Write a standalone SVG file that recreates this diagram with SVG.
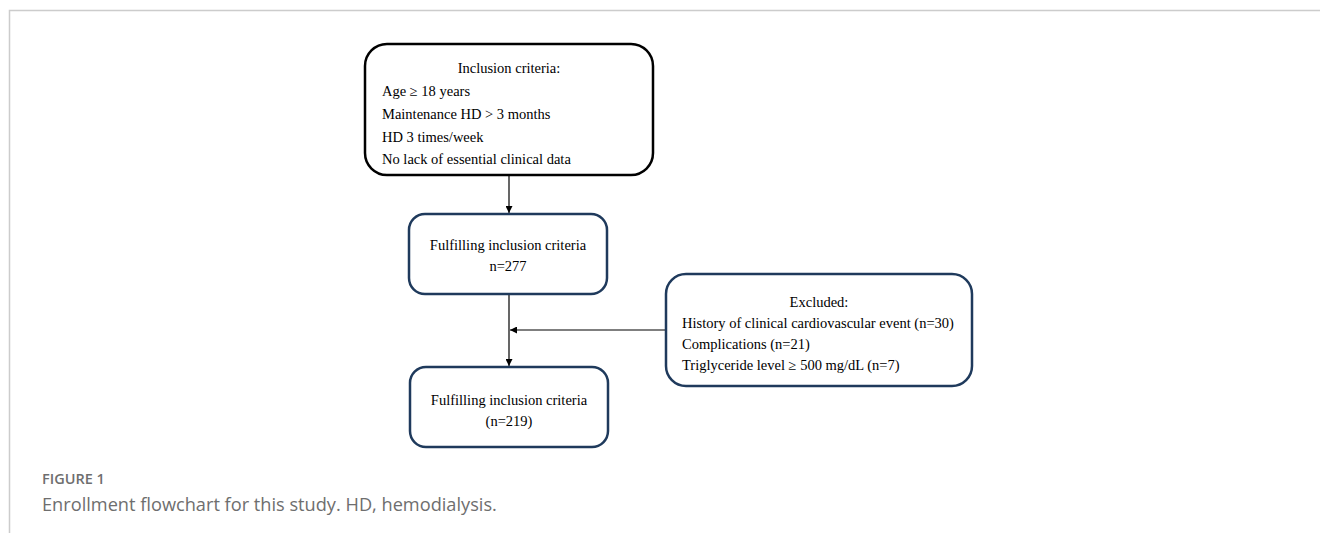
<svg xmlns="http://www.w3.org/2000/svg" width="1320" height="533" viewBox="0 0 1320 533">
<style>
.t{font-family:"Liberation Serif","Times New Roman",serif;font-size:14.5px;fill:#000}
.b{fill:#fff;stroke:#1f3a5c;stroke-width:2.5}
.c{stroke:#000;stroke-width:1.2;fill:none}
.cap{font-family:"Open Sans","Liberation Sans",sans-serif;fill:#6e6e6e}
</style>
<defs>
<marker id="ah" viewBox="0 0 10 10" refX="10" refY="5" markerWidth="7" markerHeight="7" orient="auto" markerUnits="userSpaceOnUse">
<path d="M0,0 L10,5 L0,10 z" fill="#000"/>
</marker>
</defs>
<rect width="1320" height="533" fill="#fff"/>
<path d="M9.5,533 V10.5 H1320" fill="none" stroke="#cccccc" stroke-width="1.5"/>
<g id="connectors">
<line class="c" x1="509" y1="175" x2="509" y2="213" marker-end="url(#ah)"/>
<line class="c" x1="509" y1="294" x2="509" y2="366" marker-end="url(#ah)"/>
<line class="c" x1="666" y1="330" x2="510" y2="330" stroke="#444" marker-end="url(#ah)"/>
</g>
<g id="inclusion">
<rect x="365" y="44" width="288" height="131" rx="22" fill="#fff" stroke="#000" stroke-width="2.5"/>
<text class="t" x="509" y="73" text-anchor="middle">Inclusion criteria:</text>
<text class="t" x="382" y="96">Age ≥ 18 years</text>
<text class="t" x="382" y="119">Maintenance HD &gt; 3 months</text>
<text class="t" x="382" y="142">HD 3 times/week</text>
<text class="t" x="382" y="164">No lack of essential clinical data</text>
</g>
<g id="fulfilling277">
<rect class="b" x="409" y="214" width="198" height="80" rx="16"/>
<text class="t" x="508" y="250" text-anchor="middle">Fulfilling inclusion criteria</text>
<text class="t" x="508" y="271" text-anchor="middle">n=277</text>
</g>
<g id="excluded">
<rect class="b" x="666" y="274" width="306" height="112" rx="20"/>
<text class="t" x="819" y="307" text-anchor="middle">Excluded:</text>
<text class="t" x="682" y="328">History of clinical cardiovascular event (n=30)</text>
<text class="t" x="682" y="349">Complications (n=21)</text>
<text class="t" x="682" y="370">Triglyceride level ≥ 500 mg/dL (n=7)</text>
</g>
<g id="fulfilling219">
<rect class="b" x="410" y="367" width="198" height="80" rx="16"/>
<text class="t" x="509" y="405" text-anchor="middle">Fulfilling inclusion criteria</text>
<text class="t" x="509" y="426" text-anchor="middle">(n=219)</text>
</g>
<g id="caption">
<text class="cap" x="42" y="484" font-size="14.5" font-weight="600" fill="#808080">FIGURE 1</text>
<text class="cap" x="42" y="511" font-size="18.2">Enrollment flowchart for this study. HD, hemodialysis.</text>
</g>
</svg>
